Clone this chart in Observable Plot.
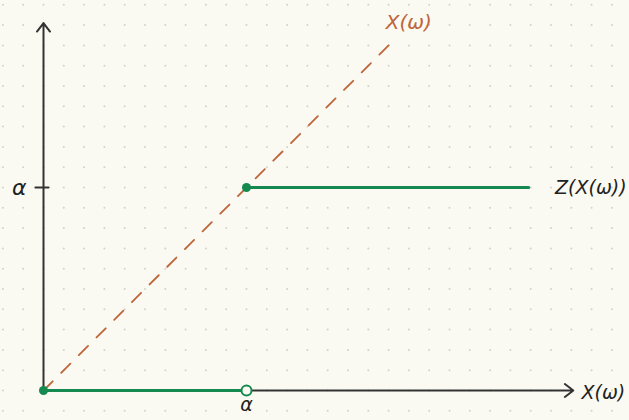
<!DOCTYPE html>
<html><head><meta charset="utf-8">
<script src="https://cdn.jsdelivr.net/npm/d3@7"></script>
<script src="https://cdn.jsdelivr.net/npm/@observablehq/plot@0.6"></script>
<style>
html,body{margin:0;padding:0;background:#fbfaf2;}
</style>
</head><body>
<div id="chart"></div>
<script>
// values in grid units (alpha = 10 cells)
const alpha = 10;
const diagonalEnd = 17.2;
const zEnd = 23.9;
const xAxisEnd = 26.1;
const yAxisEnd = 18.1;
const lowSeg = [{x: 0, y: 0}, {x: alpha, y: 0}];
const highSeg = [{x: alpha, y: alpha}, {x: zEnd, y: alpha}];
const diag = [{x: 0, y: 0}, {x: diagonalEnd, y: diagonalEnd}];
const closedDots = [{x: 0, y: 0}, {x: alpha, y: alpha}];
const openDots = [{x: alpha, y: 0}];
const diagLabel = [{x: 18.0, y: 18.1, text: "X(ω)"}];
const rightLabels = [
  {x: 25.2, y: alpha, text: "Z(X(ω))"},
  {x: 26.5, y: -0.1, text: "X(ω)"}
];
const sideAlpha = [{x: -1.2, y: alpha, text: "α"}];
const bottomAlpha = [{x: alpha, y: -0.72, text: "α"}];

const u = 20.3;
const grid = [];
for (let i = -2; i <= 29; i++) for (let j = -1; j <= 19; j++) grid.push({x: i, y: j});

const green = "#148a50", orange = "#c0643a", ink = "#333";

const chart = Plot.plot({
  width: 629, height: 420,
  margin: 0,
  style: {background: "#fbfaf2", fontFamily: "DejaVu Sans"},
  x: {domain: [-43 / u, (629 - 43) / u], axis: null},
  y: {domain: [-30 / u, 390 / u], axis: null},
  marks: [
    Plot.dot(grid, {x: "x", y: "y", r: 1, fill: "#d2d2ca", stroke: null}),
    Plot.line(diag, {x: "x", y: "y", stroke: orange, strokeWidth: 1.8, strokeDasharray: "13,12"}),
    Plot.arrow([{x1: 0, y1: 0, x2: 0, y2: yAxisEnd}], {x1: "x1", y1: "y1", x2: "x2", y2: "y2", stroke: ink, strokeWidth: 2, headLength: 8, headAngle: 75}),
    Plot.arrow([{x1: 0, y1: 0, x2: xAxisEnd, y2: 0}], {x1: "x1", y1: "y1", x2: "x2", y2: "y2", stroke: ink, strokeWidth: 2, headLength: 8, headAngle: 75}),
    Plot.line([{x: -0.4, y: alpha}, {x: 0.25, y: alpha}], {x: "x", y: "y", stroke: ink, strokeWidth: 2}),
    Plot.line(lowSeg, {x: "x", y: "y", stroke: green, strokeWidth: 3}),
    Plot.line(highSeg, {x: "x", y: "y", stroke: green, strokeWidth: 3}),
    Plot.dot(closedDots, {x: "x", y: "y", r: 4.5, fill: green, stroke: null}),
    Plot.dot(openDots, {x: "x", y: "y", r: 5, fill: "#fbfaf2", stroke: green, strokeWidth: 2}),
    Plot.text(diagLabel, {x: "x", y: "y", text: "text", fill: orange, textAnchor: "middle", fontSize: 20, fontStyle: "italic"}),
    Plot.text(rightLabels, {x: "x", y: "y", text: "text", fill: "#222", textAnchor: "start", fontSize: 19, fontStyle: "italic"}),
    Plot.text(sideAlpha, {x: "x", y: "y", text: "text", fill: "#222", textAnchor: "middle", fontSize: 22, fontStyle: "italic"}),
    Plot.text(bottomAlpha, {x: "x", y: "y", text: "text", fill: "#222", textAnchor: "middle", fontSize: 19, fontStyle: "italic"})
  ]
});
document.getElementById("chart").appendChild(chart);
</script>
</body></html>
